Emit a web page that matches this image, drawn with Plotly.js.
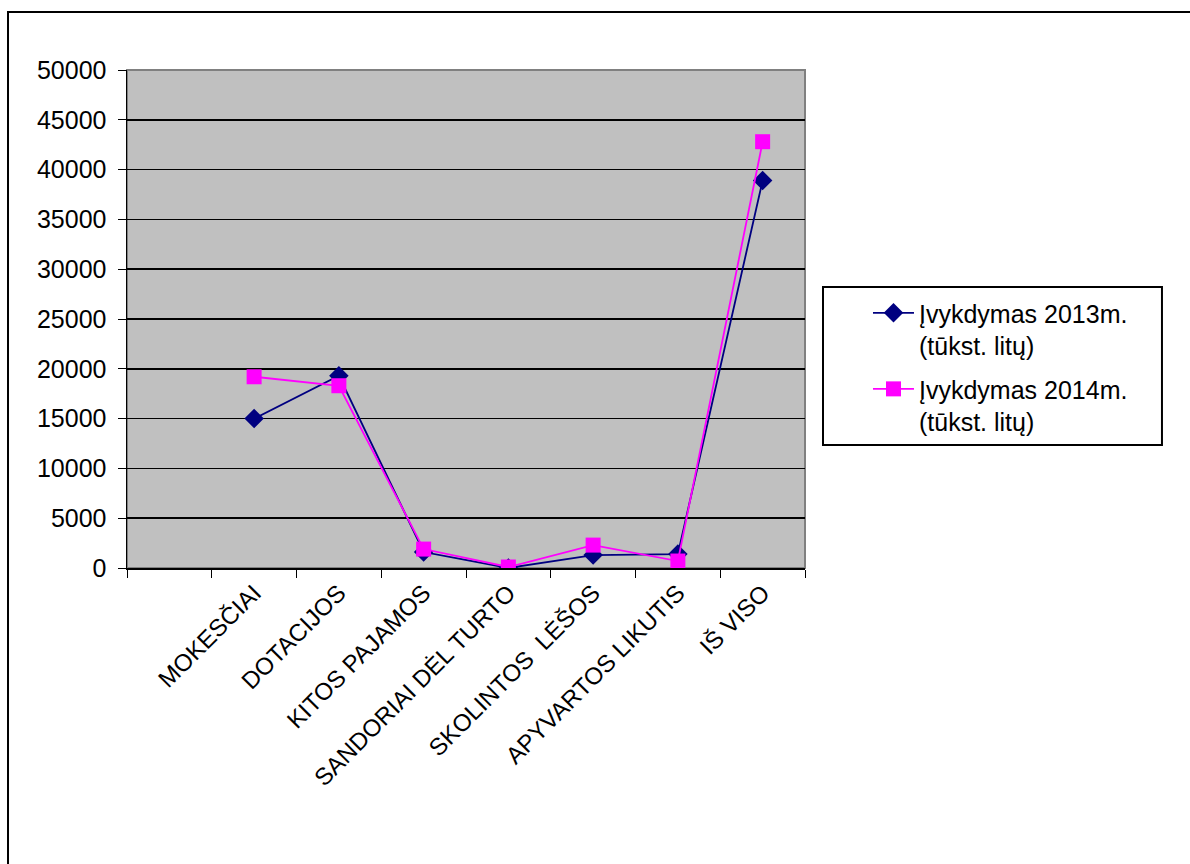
<!DOCTYPE html>
<html>
<head>
<meta charset="utf-8">
<script src="https://cdn.plot.ly/plotly-3.0.1.min.js"></script>
<style>body{margin:0;padding:0;background:#fff}#chart{width:1190px;height:864px}</style>
</head>
<body>
<div id="chart"></div>
<script>
var categories = [" ", "MOKESČIAI", "DOTACIJOS", "KITOS PAJAMOS", "SANDORIAI DĖL TURTO", "SKOLINTOS  LĖŠOS", "APYVARTOS LIKUTIS", "IŠ VISO"];
var values2013 = [null, 15000, 19300, 1600, 0, 1300, 1400, 38900];
var values2014 = [null, 19200, 18300, 1900, 100, 2300, 700, 42800];
var seriesNames = ["Įvykdymas 2013m.<br>(tūkst. litų)", "Įvykdymas 2014m.<br>(tūkst. litų)"];
var yTicks = [0, 5000, 10000, 15000, 20000, 25000, 30000, 35000, 40000, 45000, 50000];

var font = "Liberation Sans, Arial, sans-serif";
var traces = [
  {x: categories, y: values2013, name: seriesNames[0], legendgroup: "a", type: "scatter", mode: "lines+markers",
   line: {color: "#000080", width: 1.8}, marker: {symbol: "diamond", size: 15, color: "#000080"}, connectgaps: false},
  {x: categories, y: values2014, name: seriesNames[1], legendgroup: "b", type: "scatter", mode: "lines+markers",
   line: {color: "#FF00FF", width: 1.8}, marker: {symbol: "square", size: 15, color: "#FF00FF"}, connectgaps: false}
];
var layout = {
  width: 1190, height: 864,
  margin: {l: 127, r: 385, t: 70, b: 296},
  paper_bgcolor: "#ffffff", plot_bgcolor: "#C0C0C0",
  font: {family: font, size: 24, color: "#000"},
  showlegend: true,
  legend: {x: 1.0929, y: 0.558, xanchor: "left", yanchor: "top", borderwidth: 0,
           bgcolor: "rgba(0,0,0,0)", font: {family: font, size: 25}, tracegroupgap: 8, valign: "top", itemwidth: 41},
  xaxis: {type: "category", categoryorder: "array", categoryarray: categories, tickson: "boundaries",
          ticks: "outside", ticklen: 8, tickcolor: "#000", showline: true, linecolor: "#000", linewidth: 1.5,
          showgrid: false, tickangle: -45, tickfont: {family: font, size: 24}, range: [-0.5, 7.5]},
  yaxis: {range: [0, 50000], tickvals: yTicks, ticktext: yTicks.map(String), ticks: "outside", ticklen: 8,
          tickcolor: "#000", showline: true, linecolor: "#000", linewidth: 1.5, showgrid: true, gridcolor: "#000",
          gridwidth: 1.5, zeroline: false, tickfont: {family: font, size: 25}, ticklabelstandoff: 6},
  shapes: [
    {type: "rect", xref: "paper", yref: "paper", x0: 0, x1: 1, y0: 0, y1: 1, line: {color: "#808080", width: 2}, layer: "below"},
    {type: "rect", xref: "paper", yref: "paper", x0: -0.1755, x1: 1.57, y0: -0.62, y1: 1.1165, line: {color: "#000", width: 2}, fillcolor: "rgba(0,0,0,0)", layer: "below"},
    {type: "rect", xref: "paper", yref: "paper", x0: 1.02655, x1: 1.5265, y0: 0.247, y1: 0.5643, line: {color: "#000", width: 2}, fillcolor: "rgba(0,0,0,0)", layer: "below"}
  ]
};
Plotly.newPlot("chart", traces, layout, {displayModeBar: false, staticPlot: true});
</script>
</body>
</html>
